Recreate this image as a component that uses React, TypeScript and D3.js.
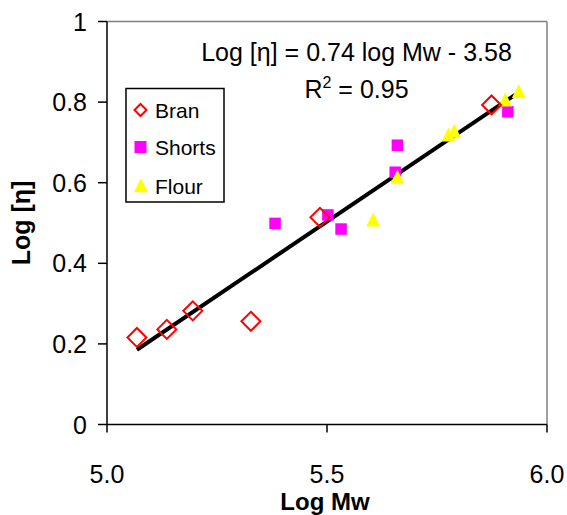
import React from "react";
import * as d3 from "d3";

const branX = [5.068, 5.136, 5.195, 5.327, 5.484, 5.874];
const branY = [0.216, 0.236, 0.282, 0.256, 0.514, 0.793];
const shortsX = [5.382, 5.502, 5.532, 5.660, 5.655, 5.911];
const shortsY = [0.499, 0.520, 0.485, 0.693, 0.626, 0.776];
const flourX = [5.605, 5.660, 5.776, 5.789, 5.905, 5.936];
const flourY = [0.507, 0.613, 0.718, 0.727, 0.805, 0.826];
const xTicks = [5.0, 5.5, 6.0];
const yTicks = [0, 0.2, 0.4, 0.6, 0.8, 1];
const legendNames = ["Bran", "Shorts", "Flour"];
const trendRange = [5.068, 5.929];

const W = 567, H = 515;
const FONT = "'Liberation Sans', Arial, sans-serif";

export default function App() {
  const x = d3.scaleLinear().domain([5, 6]).range([107, 547]);
  const y = d3.scaleLinear().domain([0, 1]).range([424.5, 21.5]);

  const allX = [...branX, ...shortsX, ...flourX];
  const allY = [...branY, ...shortsY, ...flourY];
  const mx = d3.mean(allX)!, my = d3.mean(allY)!;
  let sxy = 0, sxx = 0;
  allX.forEach((v, i) => { sxy += (v - mx) * (allY[i] - my); sxx += (v - mx) * (v - mx); });
  const slope = sxy / sxx;
  const intercept = my - slope * mx;
  const line = d3.line<number>().x(d => x(d)).y(d => y(slope * d + intercept));

  const diamond = (cx: number, cy: number, r = 9.5) =>
    `M${cx},${cy - r}L${cx + r},${cy}L${cx},${cy + r}L${cx - r},${cy}Z`;
  const tri = (cx: number, cy: number, s = 14) =>
    `M${cx},${cy - s * 0.55}L${cx + s / 2},${cy + s * 0.45}L${cx - s / 2},${cy + s * 0.45}Z`;

  return (
    <svg width={W} height={H} style={{ position: "absolute", left: 0, top: 0 }} fontFamily={FONT}>
      <rect width={W} height={H} fill="#fff" />
      {/* plot border */}
      <line x1={x(5)} x2={x(6)} y1={y(1)} y2={y(1)} stroke="#808080" strokeWidth={1.5} />
      <line x1={x(6)} x2={x(6)} y1={y(1)} y2={y(0)} stroke="#808080" strokeWidth={1.5} />
      {/* axes */}
      <line x1={x(5)} x2={x(6)} y1={y(0)} y2={y(0)} stroke="#000" strokeWidth={1.5} />
      <line x1={x(5)} x2={x(5)} y1={y(1)} y2={y(0)} stroke="#000" strokeWidth={1.5} />
      {yTicks.map(t => (
        <g key={"y" + t}>
          <line x1={x(5) - 9} x2={x(5)} y1={y(t)} y2={y(t)} stroke="#000" strokeWidth={1.5} />
          <text x={87} y={y(t) + 9} textAnchor="end" fontSize={25}>{String(t)}</text>
        </g>
      ))}
      {xTicks.map(t => (
        <g key={"x" + t}>
          <line x1={x(t)} x2={x(t)} y1={y(0)} y2={y(0) + 8} stroke="#000" strokeWidth={1.5} />
          <text x={x(t)} y={482.5} textAnchor="middle" fontSize={25}>{t.toFixed(1)}</text>
        </g>
      ))}
      <text x={325} y={510} textAnchor="middle" fontSize={24} fontWeight="bold">Log Mw</text>
      <text transform={`translate(30,${y(0.5)}) rotate(-90)`} textAnchor="middle" fontSize={25} fontWeight="bold">Log [η]</text>

      {/* trend line */}
      <path d={line(trendRange) || ""} stroke="#000" strokeWidth={4} fill="none" />

      {/* data */}
      {shortsX.map((v, i) => (
        <rect key={"s" + i} x={x(v) - 5.75} y={y(shortsY[i]) - 5.75} width={11.5} height={11.5} fill="#FF00FF" />
      ))}
      {flourX.map((v, i) => (
        <path key={"f" + i} d={tri(x(v), y(flourY[i]))} fill="#FFFF00" />
      ))}
      {branX.map((v, i) => (
        <path key={"b" + i} d={diamond(x(v), y(branY[i]))} fill="none" stroke="#FF0000" strokeWidth={2} />
      ))}

      {/* equation */}
      <text x={356.5} y={61} textAnchor="middle" fontSize={25}>Log [η] = 0.74 log Mw - 3.58</text>
      <text x={356.5} y={98} textAnchor="middle" fontSize={25}>
        R<tspan fontSize={16} dy={-10}>2</tspan><tspan dy={10}> = 0.95</tspan>
      </text>

      {/* legend */}
      <rect x={126} y={88.5} width={98} height={113.5} fill="#fff" stroke="#000" strokeWidth={1.5} />
      {legendNames.map((n, i) => {
        const cy = [110, 147, 186][i];
        return (
          <g key={n}>
            {i === 0 && <path d={diamond(140.5, cy, 6)} fill="none" stroke="#FF0000" strokeWidth={2} />}
            {i === 1 && <rect x={134.5} y={cy - 6} width={12} height={12} fill="#FF00FF" />}
            {i === 2 && <path d={tri(141, cy, 14)} fill="#FFFF00" />}
            <text x={155} y={cy + 7.5} fontSize={21}>{n}</text>
          </g>
        );
      })}
    </svg>
  );
}
